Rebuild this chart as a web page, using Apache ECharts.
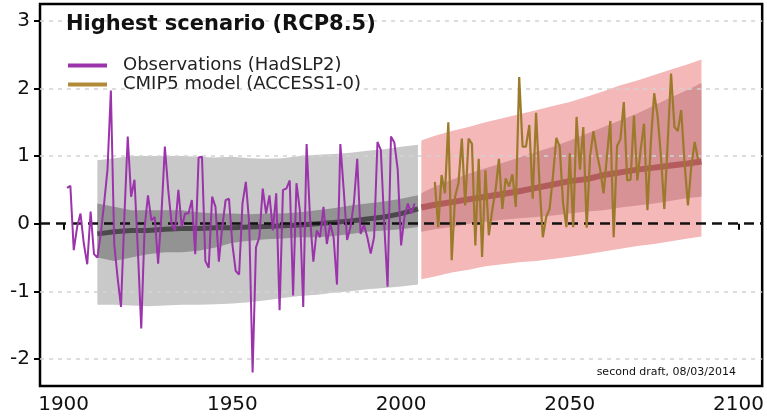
<!DOCTYPE html>
<html>
<head>
<meta charset="utf-8">
<script src="https://cdn.jsdelivr.net/npm/echarts@6/dist/echarts.min.js"></script>
<style>
  html, body { margin: 0; padding: 0; background: #ffffff; }
  #chart { width: 767px; height: 418px; }
</style>
</head>
<body>
<div id="chart"></div>
<script>
// Axis ticks
const xTicks = [1900, 1950, 2000, 2050, 2100];
const yTicks = [-2, -1, 0, 1, 2, 3];
const gridTicks = [-2, -1, 1, 2, 3];

// Observed annual index (HadSLP2), 1901-2004
const obsStart = 1901;
const obsValues = [
  0.53, 0.56, -0.39, -0.05, 0.15, -0.30, -0.60, 0.18, -0.45, -0.50,
  -0.15, 0.30, 0.80, 1.97, -0.30, -0.80, -1.23, 0.10, 1.29, 0.40,
  0.65, -0.40, -1.55, -0.05, 0.42, 0.05, 0.10, -0.59, 0.15, 1.14,
  0.50, 0.00, -0.10, 0.50, -0.05, 0.15, 0.15, 0.35, -0.45, 0.98,
  0.99, -0.55, -0.65, 0.40, 0.25, -0.56, -0.05, 0.35, 0.37, -0.30,
  -0.70, -0.75, 0.30, 0.62, 0.00, -2.20, -0.35, -0.20, 0.52, 0.15,
  0.42, -0.10, 0.45, -1.28, 0.50, 0.52, 0.64, -1.06, 0.60, 0.20,
  -1.23, 1.18, 0.10, -0.56, -0.10, -0.20, 0.25, -0.30, 0.00, -0.20,
  -0.90, 1.18, 0.50, -0.24, -0.05, 0.30, 0.96, -0.15, -0.02, -0.20,
  -0.44, -0.20, 1.21, 1.09, 0.00, -0.93, 1.29, 1.20, 0.80, -0.32,
  0.10, 0.30, 0.15, 0.30
];

// Single model run (ACCESS1-0), 2010-2088
const modelStart = 2010;
const modelValues = [
  0.62, -0.05, 0.72, 0.45, 1.50, -0.54, 0.40, 0.60, 1.26, 0.27,
  1.26, 1.18, -0.32, 0.96, -0.49, 0.79, -0.17, 0.20, 0.50, 0.96,
  0.22, 0.67, 0.55, 0.73, 0.25, 2.17, 1.14, 1.14, 1.46, 0.37,
  1.64, 0.60, -0.20, 0.10, 0.22, 0.70, 1.27, 1.14, 0.30, -0.05,
  1.04, -0.05, 1.58, 0.80, 1.43, -0.06, 1.00, 1.37, 1.05, 0.80,
  0.45, 1.00, 1.52, -0.20, 1.15, 1.25, 1.80, 0.64, 0.65, 1.60,
  0.64, 1.10, 1.48, 0.20, 1.20, 1.93, 1.60, 1.00, 0.22, 1.20,
  2.22, 1.43, 1.37, 1.68, 0.90, 0.27, 0.85, 1.21, 0.95
];

// Historical ensemble envelope, 1910-2005
const histYears = [1910, 1915, 1920, 1925, 1930, 1935, 1940, 1945, 1950, 1955,
                   1960, 1965, 1970, 1975, 1980, 1985, 1990, 1995, 2000, 2005];
const histOuterHigh = [0.94, 0.97, 1.00, 1.00, 1.00, 1.00, 0.99, 0.98, 0.99, 0.97,
                       0.96, 0.97, 1.00, 1.02, 1.03, 1.05, 1.08, 1.10, 1.14, 1.17];
const histOuterLow = [-1.20, -1.20, -1.21, -1.22, -1.21, -1.20, -1.20, -1.19, -1.18, -1.16,
                      -1.13, -1.10, -1.07, -1.05, -1.02, -1.00, -0.97, -0.95, -0.93, -0.90];
const histInnerHigh = [0.30, 0.25, 0.20, 0.20, 0.20, 0.20, 0.17, 0.15, 0.15, 0.14,
                       0.15, 0.15, 0.17, 0.20, 0.23, 0.27, 0.30, 0.33, 0.37, 0.42];
const histInnerLow = [-0.50, -0.55, -0.50, -0.45, -0.42, -0.42, -0.40, -0.35, -0.28, -0.25,
                      -0.23, -0.22, -0.20, -0.20, -0.18, -0.15, -0.12, -0.10, -0.08, -0.05];
const histMean = [-0.15, -0.12, -0.10, -0.10, -0.08, -0.07, -0.07, -0.06, -0.06, -0.05,
                  -0.04, -0.03, -0.02, 0.00, 0.02, 0.04, 0.07, 0.10, 0.15, 0.22];

// RCP8.5 ensemble envelope, 2006-2089
const rcpYears = [2006, 2010, 2015, 2020, 2025, 2030, 2035, 2040, 2045, 2050,
                  2055, 2060, 2065, 2070, 2075, 2080, 2085, 2089];
const rcpOuterHigh = [1.23, 1.30, 1.37, 1.43, 1.50, 1.56, 1.62, 1.68, 1.74, 1.80,
                      1.88, 1.96, 2.05, 2.12, 2.20, 2.28, 2.36, 2.43];
const rcpOuterLow = [-0.82, -0.78, -0.72, -0.68, -0.63, -0.60, -0.57, -0.55, -0.52, -0.49,
                     -0.45, -0.41, -0.37, -0.33, -0.30, -0.26, -0.22, -0.19];
const rcpInnerHigh = [0.45, 0.55, 0.65, 0.74, 0.82, 0.90, 0.98, 1.06, 1.14, 1.23,
                      1.33, 1.43, 1.53, 1.63, 1.75, 1.87, 1.98, 2.08];
const rcpInnerLow = [-0.12, -0.08, -0.05, 0.00, 0.03, 0.06, 0.08, 0.10, 0.12, 0.15,
                     0.18, 0.20, 0.24, 0.27, 0.30, 0.34, 0.38, 0.40];
const rcpMean = [0.24, 0.28, 0.32, 0.36, 0.40, 0.44, 0.48, 0.53, 0.58, 0.63,
                 0.66, 0.72, 0.76, 0.80, 0.83, 0.86, 0.89, 0.92];

const FONT = 'DejaVu Sans';
const OBS_COLOR = '#9b33ab';
const MODEL_COLOR = '#9c7a2c';
const MODEL_KEY_COLOR = '#b08a36';

function pairs(start, values) {
  return values.map((v, i) => [start + i, v]);
}
function zipXY(xs, ys) {
  return xs.map((x, i) => [x, ys[i]]);
}

// Filled envelope between two curves, projected through the cartesian scales
function band(name, xs, lo, hi, color, z) {
  return {
    type: 'custom',
    name: name,
    z: z,
    silent: true,
    data: [[xs[0], lo[0]]],
    encode: { x: 0, y: 1 },
    renderItem: function (params, api) {
      const pts = [];
      for (let i = 0; i < xs.length; i++) pts.push(api.coord([xs[i], hi[i]]));
      for (let i = xs.length - 1; i >= 0; i--) pts.push(api.coord([xs[i], lo[i]]));
      return { type: 'polygon', shape: { points: pts }, style: { fill: color } };
    }
  };
}

const chart = echarts.init(document.getElementById('chart'), null, { renderer: 'canvas' });

chart.setOption({
  animation: false,
  backgroundColor: '#ffffff',
  title: [
    {
      text: 'Highest scenario (RCP8.5)',
      left: 66, top: 14, padding: 0,
      textStyle: { fontFamily: FONT, fontSize: 21, fontWeight: 'bold', color: '#111' }
    },
    {
      text: 'second draft, 08/03/2014',
      right: 31, top: 367, padding: 0,
      textStyle: { fontFamily: FONT, fontSize: 11, fontWeight: 'normal', color: '#111' }
    }
  ],
  legend: {
    orient: 'vertical',
    left: 63, top: 51, z: 20,
    icon: 'rect',
    itemWidth: 39, itemHeight: 4, itemGap: 0,
    selectedMode: false,
    data: [
      {
        name: 'Observations (HadSLP2)',
        itemStyle: { color: OBS_COLOR, borderWidth: 0 },
        lineStyle: { color: OBS_COLOR, width: 4, type: 'solid' }
      },
      {
        name: 'CMIP5 model (ACCESS1-0)',
        itemStyle: { color: MODEL_KEY_COLOR, borderWidth: 0 },
        lineStyle: { color: MODEL_KEY_COLOR, width: 4, type: 'solid' }
      }
    ],
    textStyle: { fontFamily: FONT, fontSize: 18, color: '#222', lineHeight: 19, padding: [0, 0, 0, 11] }
  },
  grid: {
    left: 40, right: 4, top: 4, bottom: 32,
    show: true, borderColor: '#000', borderWidth: 2.5, backgroundColor: 'transparent'
  },
  xAxis: {
    type: 'value', min: 1893, max: 2107,
    axisLine: { show: false },
    axisTick: { show: true, length: 6, lineStyle: { color: '#000', width: 2 }, customValues: xTicks },
    axisLabel: {
      fontFamily: FONT, fontSize: 20, color: '#111', margin: 9, customValues: xTicks,
      formatter: v => String(v)
    },
    splitLine: { show: false }
  },
  yAxis: {
    type: 'value', min: -2.4, max: 3.25,
    axisLine: { show: false },
    axisTick: { show: true, length: 6, lineStyle: { color: '#000', width: 2 }, customValues: yTicks },
    axisLabel: {
      fontFamily: FONT, fontSize: 20, color: '#111', margin: 10, customValues: yTicks,
      formatter: v => String(v)
    },
    splitLine: { show: false }
  },
  series: [
    band('hist outer', histYears, histOuterLow, histOuterHigh, '#c9c9c9', 1),
    band('hist inner', histYears, histInnerLow, histInnerHigh, '#939393', 2),
    band('rcp outer', rcpYears, rcpOuterLow, rcpOuterHigh, '#f4b8b8', 1),
    band('rcp inner', rcpYears, rcpInnerLow, rcpInnerHigh, '#d69294', 2),
    {
      type: 'line', name: 'grid', data: [], z: 3, silent: true,
      markLine: {
        silent: true, symbol: 'none', label: { show: false },
        lineStyle: { color: '#d2d2d2', type: [4, 5], width: 1.5 },
        data: gridTicks.map(v => ({ yAxis: v }))
      }
    },
    {
      type: 'line', name: 'hist mean', data: zipXY(histYears, histMean), z: 4,
      showSymbol: false, silent: true,
      lineStyle: { color: '#4a4a4a', width: 5 }
    },
    {
      type: 'line', name: 'rcp mean', data: zipXY(rcpYears, rcpMean), z: 4,
      showSymbol: false, silent: true,
      lineStyle: { color: '#b35b5d', width: 6 }
    },
    {
      type: 'line', name: 'zero', data: [], z: 5, silent: true,
      markLine: {
        silent: true, symbol: 'none', label: { show: false },
        lineStyle: { color: '#111', type: [10, 6], width: 2.5 },
        data: [{ yAxis: 0 }]
      }
    },
    {
      type: 'line', name: 'Observations (HadSLP2)', data: pairs(obsStart, obsValues), z: 6,
      showSymbol: false, itemStyle: { color: OBS_COLOR },
      lineStyle: { color: OBS_COLOR, width: 2 }
    },
    {
      type: 'line', name: 'CMIP5 model (ACCESS1-0)', data: pairs(modelStart, modelValues), z: 6,
      showSymbol: false, itemStyle: { color: MODEL_COLOR },
      lineStyle: { color: MODEL_COLOR, width: 2.2 }
    }
  ]
});
</script>
</body>
</html>
